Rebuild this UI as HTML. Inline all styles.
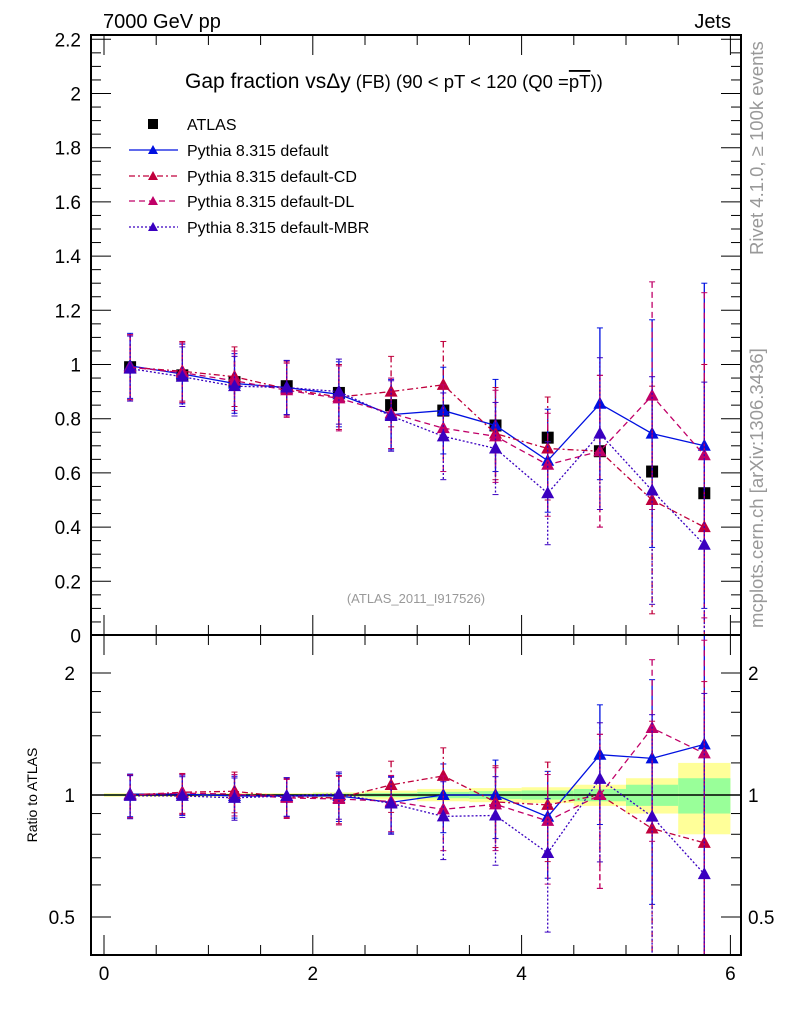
<!DOCTYPE html>
<html><head><meta charset="utf-8"><style>
body{margin:0;background:#fff;}
svg{display:block;font-family:"Liberation Sans",sans-serif;}
</style></head><body>
<svg id="c" width="786" height="1024" viewBox="0 0 786 1024" xmlns="http://www.w3.org/2000/svg">
<text x="103" y="28" font-size="20">7000 GeV pp</text>
<text x="731" y="28" font-size="20" text-anchor="end">Jets</text>
<text x="185" y="88" font-size="21">Gap fraction vs<tspan>Δy</tspan><tspan font-size="18"> (FB)</tspan><tspan font-size="18.5"> (90 &lt; pT &lt; 120 (Q0 =<tspan text-decoration="overline">pT</tspan>))</tspan></text>
<text x="416" y="603" font-size="13" fill="#999" text-anchor="middle">(ATLAS_2011_I917526)</text>
<text transform="translate(763,255) rotate(-90)" font-size="18.5" fill="#999">Rivet 4.1.0, ≥ 100k events</text>
<text transform="translate(763,628) rotate(-90)" font-size="18.5" fill="#999">mcplots.cern.ch [arXiv:1306.3436]</text>
<text transform="translate(37,795) rotate(-90)" font-size="14" text-anchor="middle">Ratio to ATLAS</text>
<g id="bands"></g><g id="marks"></g><g id="axes"></g><g id="legend"></g>
</svg>
<script>
const binCenters=[0.25,0.75,1.25,1.75,2.25,2.75,3.25,3.75,4.25,4.75,5.25,5.75];
const atlas=[0.99,0.96,0.935,0.92,0.895,0.85,0.83,0.775,0.73,0.68,0.605,0.525];
const pyDefault=[0.995,0.965,0.93,0.915,0.89,0.815,0.83,0.775,0.645,0.855,0.745,0.70];
const pyCD=[0.99,0.975,0.955,0.91,0.88,0.9,0.925,0.745,0.69,0.68,0.5,0.4];
const pyDL=[0.99,0.97,0.94,0.905,0.875,0.82,0.765,0.735,0.63,0.68,0.885,0.665];
const pyMBR=[0.985,0.955,0.92,0.915,0.9,0.81,0.735,0.69,0.525,0.745,0.535,0.335];
const mcErr=[0.12,0.11,0.11,0.1,0.12,0.13,0.16,0.17,0.19,0.28,0.42,0.6];
const bandYellow=[0.01,0.01,0.01,0.01,0.015,0.025,0.035,0.04,0.045,0.06,0.1,0.2];
const bandGreen=[0.005,0.005,0.005,0.005,0.008,0.012,0.018,0.022,0.026,0.035,0.06,0.1];
const mainTicks=[0,0.2,0.4,0.6,0.8,1,1.2,1.4,1.6,1.8,2,2.2];
const mainTickLabels=["0","0.2","0.4","0.6","0.8","1","1.2","1.4","1.6","1.8","2","2.2"];
const xTickLabels=["0","2","4","6"];
const ratioTicks=[0.5,1,2];

const NS="http://www.w3.org/2000/svg";
const L=91,R=741,T=35,M=635,B=955;
const X=v=>104+v*104.4;
const Y=v=>635.5-v*271;
const RY=v=>795-Math.log2(v)*122;
function el(p,t,a){const e=document.createElementNS(NS,t);for(const k in a)e.setAttribute(k,a[k]);p.appendChild(e);return e;}
const bands=document.getElementById('bands'),marks=document.getElementById('marks'),axes=document.getElementById('axes'),leg=document.getElementById('legend');

binCenters.forEach((c,i)=>{
  const y=el(bands,'rect',{x:X(c-0.25),width:X(c+0.25)-X(c-0.25),y:RY(1+bandYellow[i]),height:RY(1-bandYellow[i])-RY(1+bandYellow[i]),fill:'#ffff99'});
  
  
  const g=el(bands,'rect',{x:X(c-0.25),width:X(c+0.25)-X(c-0.25),y:RY(1+bandGreen[i]),height:RY(1-bandGreen[i])-RY(1+bandGreen[i]),fill:'#99ff99'});
  
  
});
const one=el(bands,'line',{x1:L,x2:R,y1:RY(1),y2:RY(1),stroke:'#000','stroke-width':1.5});



const series=[
 {name:'default',vals:pyDefault,color:'#0010e0',dash:'',label:'Pythia 8.315 default'},
 {name:'default-cd',vals:pyCD,color:'#c0003c',dash:'6,3,2,3',label:'Pythia 8.315 default-CD'},
 {name:'default-dl',vals:pyDL,color:'#c00068',dash:'6,4',label:'Pythia 8.315 default-DL'},
 {name:'default-mbr',vals:pyMBR,color:'#3a00c0',dash:'2,2',label:'Pythia 8.315 default-MBR'}];
function tri(p,x,y,c){return el(p,'path',{d:`M${x},${y-7}L${x+6.5},${y+5}L${x-6.5},${y+5}Z`,fill:c});}
function clip(y,top,bot){return Math.max(top,Math.min(bot,y));}

binCenters.forEach((c,i)=>{
  const s=el(marks,'rect',{x:X(c)-6,y:Y(atlas[i])-6,width:12,height:12,fill:'#000'});
  
  
});
series.forEach(s=>{
  const mp=binCenters.map((c,i)=>X(c)+','+Y(s.vals[i])).join(' ');
  const l=el(marks,'polyline',{points:mp,fill:'none',stroke:s.color,'stroke-width':1.3,'stroke-dasharray':s.dash});
  
  
  const rp=binCenters.map((c,i)=>X(c)+','+RY(s.vals[i]/atlas[i])).join(' ');
  const rl=el(marks,'polyline',{points:rp,fill:'none',stroke:s.color,'stroke-width':1.3,'stroke-dasharray':s.dash});
  
  
  binCenters.forEach((c,i)=>{
    const v=s.vals[i],e=mcErr[i],x=X(c);
    const y1=clip(Y(v+e),T,M),y2=clip(Y(Math.max(v-e,0)),T,M);
    const eb=el(marks,'line',{x1:x,x2:x,y1:y1,y2:y2,stroke:s.color,'stroke-width':1.3,'stroke-dasharray':s.dash});
    
    
    el(marks,'line',{x1:x-3,x2:x+3,y1:y1,y2:y1,stroke:s.color});
    el(marks,'line',{x1:x-3,x2:x+3,y1:y2,y2:y2,stroke:s.color});
    const t=tri(marks,x,Y(v),s.color);
    
    
    const r=v/atlas[i],re=e/atlas[i];
    const ry1=clip(RY(r+re),M,B),ry2=clip(RY(Math.max(r-re,0.01)),M,B);
    const reb=el(marks,'line',{x1:x,x2:x,y1:ry1,y2:ry2,stroke:s.color,'stroke-width':1.3,'stroke-dasharray':s.dash});
    
    
    el(marks,'line',{x1:x-3,x2:x+3,y1:ry1,y2:ry1,stroke:s.color});
    el(marks,'line',{x1:x-3,x2:x+3,y1:ry2,y2:ry2,stroke:s.color});
    const rt=tri(marks,x,RY(r),s.color);
    
    
  });
});

const f1=el(axes,'rect',{x:L,y:T,width:R-L,height:M-T,fill:'none',stroke:'#000','stroke-width':2});


const f2=el(axes,'rect',{x:L,y:M,width:R-L,height:B-M,fill:'none',stroke:'#000','stroke-width':2});


for(let k=0;k<=44;k++){const v=k*0.05,y=Y(v);if(y<T)continue;const len=(k%4===0)?20:10;
  el(axes,'line',{x1:L,x2:L+len,y1:y,y2:y,stroke:'#000'});el(axes,'line',{x1:R-len,x2:R,y1:y,y2:y,stroke:'#000'});}
mainTicks.forEach((v,i)=>{const t=el(axes,'text',{x:81,y:Y(v)+7,'font-size':19,'text-anchor':'end'});t.textContent=mainTickLabels[i];
  
  });
for(let k=0;k<=12;k++){const v=k*0.5,x=X(v);const len=(k%4===0)?20:10;
  el(axes,'line',{x1:x,x2:x,y1:T,y2:T+len,stroke:'#000'});el(axes,'line',{x1:x,x2:x,y1:M-len,y2:M,stroke:'#000'});
  el(axes,'line',{x1:x,x2:x,y1:M,y2:M+len,stroke:'#000'});el(axes,'line',{x1:x,x2:x,y1:B-len,y2:B,stroke:'#000'});}
xTickLabels.forEach(s=>{const t=el(axes,'text',{x:X(+s),y:980,'font-size':19,'text-anchor':'middle'});t.textContent=s;
  
  });
[0.5,0.6,0.7,0.8,0.9,1,2].forEach(v=>{const y=RY(v),len=ratioTicks.includes(v)?20:10;
  el(axes,'line',{x1:L,x2:L+len,y1:y,y2:y,stroke:'#000'});el(axes,'line',{x1:R-len,x2:R,y1:y,y2:y,stroke:'#000'});});
[1.2,1.4,1.6,1.8].forEach(v=>{const y=RY(v);el(axes,'line',{x1:L,x2:L+10,y1:y,y2:y,stroke:'#000'});el(axes,'line',{x1:R-10,x2:R,y1:y,y2:y,stroke:'#000'});});
ratioTicks.forEach(v=>{const t=el(axes,'text',{x:75,y:RY(v)+7,'font-size':19,'text-anchor':'end'});t.textContent=String(v);
  
  
  const t2=el(axes,'text',{x:748,y:RY(v)+7,'font-size':19});t2.textContent=String(v);
  
  });

const ly=[124,150,176,201,227];
const sq=el(leg,'rect',{x:148,y:ly[0]-5,width:10,height:10,fill:'#000'});


const lt=el(leg,'text',{x:187,y:ly[0]+6,'font-size':16});lt.textContent='ATLAS';


series.forEach((s,i)=>{const y=ly[i+1];
  el(leg,'line',{x1:129,x2:178,y1:y,y2:y,stroke:s.color,'stroke-width':1.3,'stroke-dasharray':s.dash});
  el(leg,'path',{d:`M153,${y-5}L158,${y+4}L148,${y+4}Z`,fill:s.color});
  const t=el(leg,'text',{x:187,y:y+6,'font-size':16});t.textContent=s.label;
  
  });
</script>
</body></html>
